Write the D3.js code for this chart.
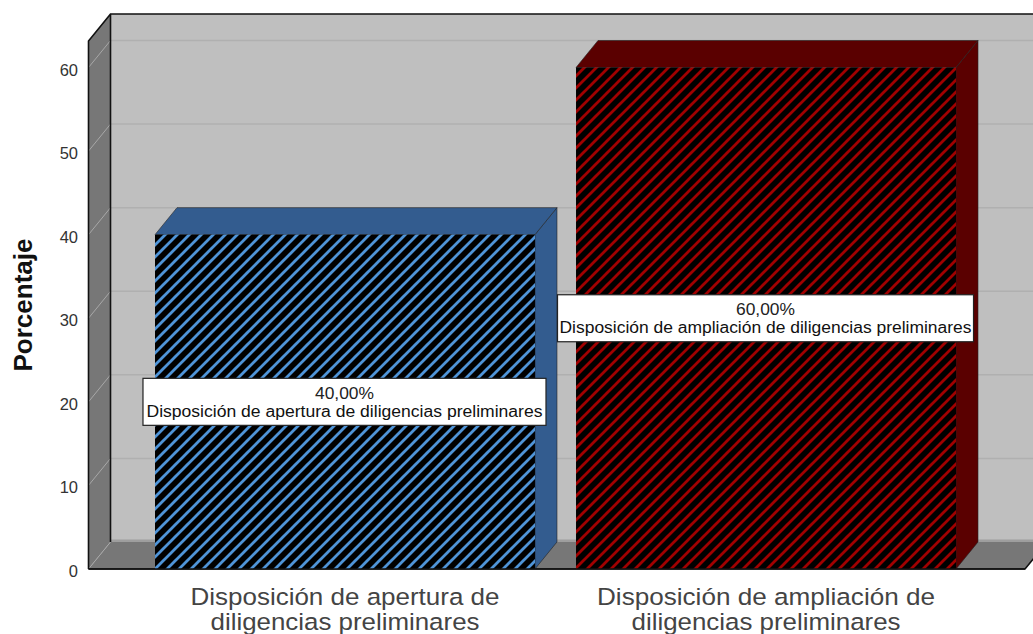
<!DOCTYPE html>
<html><head><meta charset="utf-8">
<style>html,body{margin:0;padding:0;background:#fff}svg{display:block}text{font-family:"Liberation Sans",Arial,sans-serif}</style>
<script src="https://cdn.jsdelivr.net/npm/d3@7"></script></head>
<body><svg id="c" width="1033" height="634"></svg>
<script>
const categories=["Disposición de apertura de diligencias preliminares","Disposición de ampliación de diligencias preliminares"];
const axisLines=[["Disposición de apertura de","diligencias preliminares"],["Disposición de ampliación de","diligencias preliminares"]];
const values=[40,60];
const valueLabels=["40,00%","60,00%"];
const ticks=[0,10,20,30,40,50,60];
const faceColors=["#4f94d8","#a00000"];
const sideColors=["#335c8f","#5a0000"];
const yTitle="Porcentaje";

const W=1033,H=634,dx=22,dy=-27;
const svg=d3.select("#c");
const y=d3.scaleLinear().domain([0,60]).range([569,67.5]);
const x=d3.scaleBand().domain(categories).range([134.5,976.5]).paddingInner(0.0975).paddingOuter(0.0487);
const defs=svg.append("defs");
const per=12;
faceColors.forEach((c,i)=>{
  const p=defs.append("pattern").attr("id","h"+i).attr("patternUnits","userSpaceOnUse")
    .attr("width",per).attr("height",per).attr("patternTransform","translate(4,0)");
  p.append("rect").attr("width",per).attr("height",per).attr("fill","#000");
  p.append("path").attr("d",`M-3,3L3,-3M-3,${per+3}L${per+3},-3M${per-3},${per+3}L${per+3},${per-3}`).attr("stroke",c).attr("stroke-width",2.8);
});
const poly=(pts,fill,stroke,sw)=>svg.append("polygon").attr("points",pts.map(p=>p.join(",")).join(" "))
  .attr("fill",fill).attr("stroke",stroke||"none").attr("stroke-width",sw||1);
const x0=88.5,xEnd=1025,y0=y(0),yTop=y(60)-26.5;
poly([[x0+dx,y0+dy],[W+5,y0+dy],[W+5,yTop+dy],[x0+dx,yTop+dy]],"#bfbfbf");
svg.append("rect").attr("x",x0+dx).attr("y",y0+dy-2.5).attr("width",W-x0-dx).attr("height",3).attr("fill","#9e9e9e");
poly([[x0,y0],[xEnd,y0],[xEnd+dx,y0+dy],[x0+dx,y0+dy]],"#777");
poly([[x0,y0],[x0+dx,y0+dy],[x0+dx,yTop+dy],[x0,yTop]],"#777");
ticks.forEach(t=>{
  const yy=y(t);
  if(t>0)svg.append("line").attr("x1",x0+dx).attr("x2",W).attr("y1",yy+dy).attr("y2",yy+dy).attr("stroke","#b0b0b0").attr("stroke-width",1.5);
  svg.append("line").attr("x1",x0).attr("x2",x0+dx).attr("y1",yy).attr("y2",yy+dy).attr("stroke","#a8a8a8").attr("stroke-width",1);
});
svg.append("path").attr("d",`M${x0},${y0}L${x0},${yTop}L${x0+dx},${yTop+dy}L${W},${yTop+dy}M${x0+dx},${yTop+dy}L${x0+dx},${y0+dy}`)
  .attr("fill","none").attr("stroke","#111").attr("stroke-width",1.6);
svg.append("path").attr("d",`M${x0},${y0}L${xEnd},${y0}L${xEnd+dx},${y0+dy}`).attr("fill","none").attr("stroke","#111").attr("stroke-width",1.6);
values.forEach((v,i)=>{
  const bx=x(categories[i]),bw=x.bandwidth(),t=y(v),b=y(0);
  poly([[bx+bw,b],[bx+bw+dx,b+dy],[bx+bw+dx,t+dy],[bx+bw,t]],sideColors[i],"#222",0.6);
  poly([[bx,t],[bx+dx,t+dy],[bx+bw+dx,t+dy],[bx+bw,t]],sideColors[i],"#222",0.6);
  svg.append("rect").attr("x",bx).attr("y",t).attr("width",bw).attr("height",b-t).attr("fill",`url(#h${i})`);
});
svg.append("line").attr("x1",x0).attr("x2",xEnd).attr("y1",y0).attr("y2",y0).attr("stroke","#111").attr("stroke-width",1.6);
ticks.forEach(t=>svg.append("text").attr("x",78).attr("y",y(t)+8).attr("text-anchor","end").attr("font-size",16.5).attr("fill","#333").text(t));
svg.append("text").attr("transform","translate(32,305) rotate(-90)").attr("text-anchor","middle").attr("font-size",26).attr("font-weight","bold").attr("fill","#111").text(yTitle);
const axisLen=[[309,269],[338,269]];
axisLines.forEach((ls,i)=>{
  const c=x(categories[i])+x.bandwidth()/2;
  ls.forEach((l,j)=>svg.append("text").attr("x",c).attr("y",604.5+j*25.5).attr("text-anchor","middle").attr("font-size",24.5).attr("fill","#444")
    .attr("textLength",axisLen[i][j]).attr("lengthAdjust","spacingAndGlyphs").text(l));
});
const lblW=[403,416],lblLen=[396,412];
values.forEach((v,i)=>{
  const c=x(categories[i])+x.bandwidth()/2-0.5;
  const m=y(v/2);
  const g=svg.append("g");
  g.append("rect").attr("x",c-lblW[i]/2).attr("y",m-23.5).attr("width",lblW[i]).attr("height",47).attr("fill","#fff").attr("stroke","#222").attr("stroke-width",1.2);
  g.append("text").attr("x",c).attr("y",m-3).attr("text-anchor","middle").attr("font-size",16).attr("fill","#222")
    .attr("textLength",59).attr("lengthAdjust","spacingAndGlyphs").text(valueLabels[i]);
  g.append("text").attr("x",c).attr("y",m+15).attr("text-anchor","middle").attr("font-size",16).attr("fill","#111")
    .attr("textLength",lblLen[i]).attr("lengthAdjust","spacingAndGlyphs").text(categories[i]);
});
</script></body></html>
